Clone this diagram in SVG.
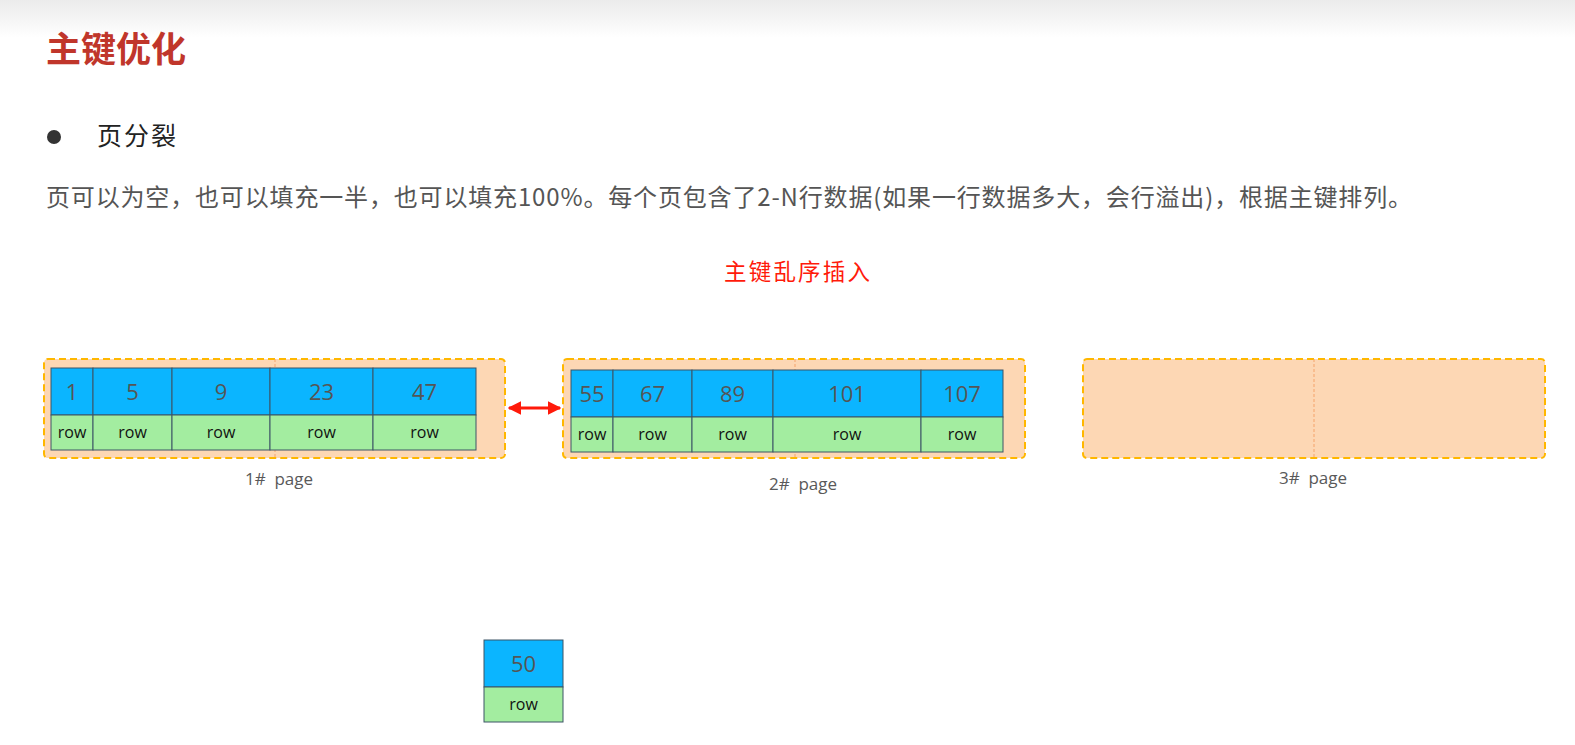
<svg xmlns="http://www.w3.org/2000/svg" width="1575" height="745" viewBox="0 0 1575 745">
  <defs>
    <linearGradient id="topband" x1="0" y1="0" x2="0" y2="1">
      <stop offset="0" stop-color="#ebebeb"/>
      <stop offset="1" stop-color="#ffffff"/>
    </linearGradient>
    <marker id="arr" viewBox="0 0 10 10" refX="9" refY="5" markerWidth="4.5" markerHeight="4.5" orient="auto-start-reverse">
      <path d="M0,0 L10,5 L0,10 z" fill="#ff1a0a"/>
    </marker>
    <style>
      .cjk { font-family: "Noto Sans CJK SC", "Noto Sans", sans-serif; }
      .page { fill: #fdd7b4; stroke: #ffb700; stroke-width: 2; stroke-dasharray: 7 4; }
      .divider { stroke: #f5a36a; stroke-width: 1; stroke-dasharray: 3 2; fill: none; }
      .key { fill: #0bb5ff; stroke: #3d5566; stroke-width: 1; }
      .row { fill: #a3eda0; stroke: #3d5566; stroke-width: 1; }
      .num { font-family: "Open Sans", "Liberation Sans", sans-serif; font-size: 22px; fill: #555555; text-anchor: middle; }
      .rowt { font-family: "Open Sans", "Liberation Sans", sans-serif; font-size: 16px; fill: #111111; text-anchor: middle; }
      .label { font-family: "Open Sans", "Liberation Sans", sans-serif; font-size: 17px; fill: #595959; text-anchor: middle; white-space: pre; }
    </style>
  </defs>

  <rect x="0" y="0" width="1575" height="745" fill="#ffffff"/>
  <rect x="0" y="0" width="1575" height="38" fill="url(#topband)"/>

  <g id="title">
    <text x="46" y="62" class="cjk" font-size="35" font-weight="bold" fill="#c0362b">主键优化</text>
  </g>
  <g id="bullet">
    <circle cx="54" cy="137" r="7" fill="#333333"/>
    <text x="97" y="145" class="cjk" font-size="25" letter-spacing="2" fill="#222222">页分裂</text>
  </g>
  <g id="desc">
    <text x="46" y="206" class="cjk" font-size="24" fill="#555555" textLength="1366" lengthAdjust="spacing">页可以为空，也可以填充一半，也可以填充100%。每个页包含了2-N行数据(如果一行数据多大，会行溢出)，根据主键排列。</text>
  </g>
  <g id="caption">
    <text x="724" y="280" class="cjk" font-size="22.5" letter-spacing="2.2" fill="#ff1a0a">主键乱序插入</text>
  </g>

  <g id="page1">
    <rect class="page" x="44" y="359" width="461" height="99" rx="4"/>
    <line class="divider" x1="275" y1="359" x2="275" y2="458"/>
    <rect class="key" x="51" y="368" width="42" height="47"/>
    <rect class="key" x="93" y="368" width="79" height="47"/>
    <rect class="key" x="172" y="368" width="98" height="47"/>
    <rect class="key" x="270" y="368" width="103" height="47"/>
    <rect class="key" x="373" y="368" width="103" height="47"/>
    <rect class="row" x="51" y="415" width="42" height="35"/>
    <rect class="row" x="93" y="415" width="79" height="35"/>
    <rect class="row" x="172" y="415" width="98" height="35"/>
    <rect class="row" x="270" y="415" width="103" height="35"/>
    <rect class="row" x="373" y="415" width="103" height="35"/>
    <text class="num" x="72" y="400">1</text>
    <text class="num" x="132.5" y="400">5</text>
    <text class="num" x="221" y="400">9</text>
    <text class="num" x="321.5" y="400">23</text>
    <text class="num" x="424.5" y="400">47</text>
    <text class="rowt" x="72" y="438">row</text>
    <text class="rowt" x="132.5" y="438">row</text>
    <text class="rowt" x="221" y="438">row</text>
    <text class="rowt" x="321.5" y="438">row</text>
    <text class="rowt" x="424.5" y="438">row</text>
    <text class="label" x="279" y="485">1#  page</text>
  </g>

  <g id="page2">
    <rect class="page" x="563" y="359" width="462" height="99" rx="4"/>
    <line class="divider" x1="795" y1="359" x2="795" y2="458"/>
    <rect class="key" x="571" y="370" width="42" height="47"/>
    <rect class="key" x="613" y="370" width="79" height="47"/>
    <rect class="key" x="692" y="370" width="81" height="47"/>
    <rect class="key" x="773" y="370" width="148" height="47"/>
    <rect class="key" x="921" y="370" width="82" height="47"/>
    <rect class="row" x="571" y="417" width="42" height="35"/>
    <rect class="row" x="613" y="417" width="79" height="35"/>
    <rect class="row" x="692" y="417" width="81" height="35"/>
    <rect class="row" x="773" y="417" width="148" height="35"/>
    <rect class="row" x="921" y="417" width="82" height="35"/>
    <text class="num" x="592" y="402">55</text>
    <text class="num" x="652.5" y="402">67</text>
    <text class="num" x="732.5" y="402">89</text>
    <text class="num" x="847" y="402">101</text>
    <text class="num" x="962" y="402">107</text>
    <text class="rowt" x="592" y="440">row</text>
    <text class="rowt" x="652.5" y="440">row</text>
    <text class="rowt" x="732.5" y="440">row</text>
    <text class="rowt" x="847" y="440">row</text>
    <text class="rowt" x="962" y="440">row</text>
    <text class="label" x="803" y="490">2#  page</text>
  </g>

  <g id="page3">
    <rect class="page" x="1083" y="359" width="462" height="99" rx="4"/>
    <line class="divider" x1="1314" y1="359" x2="1314" y2="458"/>
    <text class="label" x="1313" y="484">3#  page</text>
  </g>

  <g id="record50">
    <rect class="key" x="484" y="640" width="79" height="47"/>
    <rect class="row" x="484" y="687" width="79" height="35"/>
    <text class="num" x="523.5" y="672">50</text>
    <text class="rowt" x="523.5" y="710">row</text>
  </g>

  <g id="connectors">
    <line x1="509" y1="408" x2="560" y2="408" stroke="#ff1a0a" stroke-width="3" marker-start="url(#arr)" marker-end="url(#arr)"/>
  </g>
</svg>
